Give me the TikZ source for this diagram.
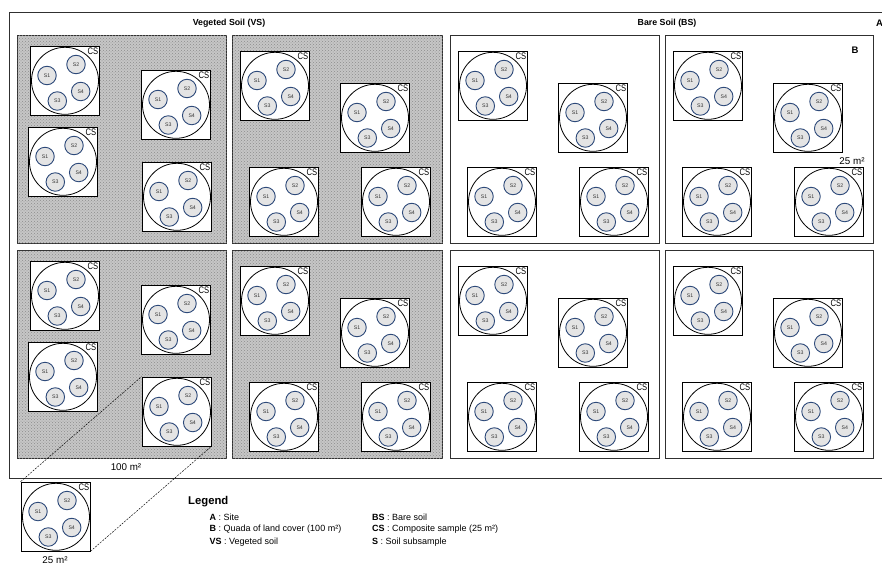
\documentclass[tikz,border=0pt]{standalone}
\usepackage{fontspec}
\setmainfont{Liberation Sans}
\newfontfamily\narrowfam[FakeStretch=0.8]{Liberation Sans}
\usetikzlibrary{patterns}
\definecolor{subedge}{HTML}{2E4A7A}
\definecolor{subfill}{HTML}{E4E4E4}
\definecolor{quadedge}{HTML}{303030}
\definecolor{shadebg}{HTML}{C6C6C6}
\tikzset{
  siteframe/.style={draw=quadedge, line width=1.1pt, rectangle, anchor=north west, inner sep=0pt},
  quad/.style={draw=quadedge, line width=1.1pt, rectangle, anchor=north west, minimum width=209pt, minimum height=208pt, inner sep=0pt},
  vquad/.style={quad, fill=shadebg},
  csbox/.style={draw=black, line width=0.75pt, fill=white, rectangle, minimum size=69pt, inner sep=0pt},
  cscirc/.style={draw=black, line width=0.8pt, circle, minimum size=67pt, inner sep=0pt},
  cslab/.style={font=\narrowfam\fontsize{9.5}{9.5}\selectfont, inner sep=0.6pt, anchor=north east},
  subs/.style={draw=subedge, line width=0.9pt, fill=subfill, circle, minimum size=18.5pt, inner sep=0pt, font=\fontsize{5.2}{5.2}\selectfont, text=black!80},
  ttl/.style={font=\bfseries\fontsize{8.8}{9}\selectfont, inner sep=0pt},
  area/.style={font=\fontsize{9.8}{10}\selectfont, inner sep=0pt},
  legtitle/.style={font=\bfseries\fontsize{11.3}{12}\selectfont, anchor=west, inner sep=0pt},
  legitem/.style={font=\fontsize{9}{10}\selectfont, anchor=west, inner sep=0pt},
  zoomline/.style={draw=black, line width=0.45pt, dash pattern=on 2pt off 1.2pt},
  csunit/.pic={
    \node[csbox] (-box) at (34.5,34.5) {};
    \node[cscirc] (-circ) at (35,34.8) {};
    \node[cslab] (-cs) at (69,0.6) {CS};
    \node[subs] (-s1) at (17,29.5) {S1};
    \node[subs] (-s2) at (46,18.5) {S2};
    \node[subs] (-s3) at (27.3,55) {S3};
    \node[subs] (-s4) at (50.7,45.5) {S4};
  }
}
\newcommand\layoutOne[3]{%
  \pic (#1a) at (#2+13,#3+11) {csunit};
  \pic (#1b) at (#2+124,#3+35) {csunit};
  \pic (#1c) at (#2+11,#3+92) {csunit};
  \pic (#1d) at (#2+125,#3+127) {csunit};
}
\newcommand\layoutTwo[3]{%
  \pic (#1a) at (#2+8,#3+16) {csunit};
  \pic (#1b) at (#2+108,#3+48) {csunit};
  \pic (#1c) at (#2+17,#3+132) {csunit};
  \pic (#1d) at (#2+129,#3+132) {csunit};
}
\begin{document}
\begin{tikzpicture}[x=1pt,y=-1pt]
\useasboundingbox (0,0) rectangle (882,565);
\clip (0,0) rectangle (882,565);
\fill[white] (0,0) rectangle (882,565);
% site frame
\node[siteframe, minimum width=880pt, minimum height=466pt] (site) at (9,12) {};
% quadrats
\node[vquad] (q1) at (17,35) {};
\node[vquad, minimum width=210pt] (q2) at (232,35) {};
\node[quad] (q3) at (450,35) {};
\node[quad, minimum width=208pt] (q4) at (665,35) {};
\node[vquad] (q5) at (17,250) {};
\node[vquad, minimum width=210pt] (q6) at (232,250) {};
\node[quad] (q7) at (450,250) {};
\node[quad, minimum width=208pt] (q8) at (665,250) {};
\foreach \q in {q1,q2,q5,q6}{
  \path[pattern=crosshatch dots, pattern color=gray!90] ([shift={(0.6pt,-0.6pt)}]\q.north west) rectangle ([shift={(-0.6pt,0.6pt)}]\q.south east);
}
% composite samples
\layoutOne{q1}{17}{35}
\layoutTwo{q2}{232}{35}
\layoutTwo{q3}{450}{35}
\layoutTwo{q4}{665}{35}
\layoutOne{q5}{17}{250}
\layoutTwo{q6}{232}{250}
\layoutTwo{q7}{450}{250}
\layoutTwo{q8}{665}{250}
% enlarged composite sample
\pic (zcs) at (21,482) {csunit};
\draw[zoomline] (zcs-box.north west) -- (q5d-box.north west);
\draw[zoomline] (zcs-box.south east) -- (q5d-box.south east);
% labels
\node[ttl] (tvs) at (229,23) {Vegeted Soil (VS)};
\node[ttl] (tbs) at (667,23) {Bare Soil (BS)};
\node[ttl, font=\bfseries\fontsize{9.5}{9.5}\selectfont] (la) at (879.5,23) {A};
\node[ttl, font=\bfseries\fontsize{9.5}{9.5}\selectfont] (lb) at (855,50) {B};
\node[area] (a25top) at (852,161) {25 m²};
\node[area] (a100) at (126,467) {100 m²};
\node[area] (a25bot) at (55,560) {25 m²};
% legend
\node[legtitle] (leg) at (188,502) {Legend};
\node[legitem] (legA) at (209.5,517) {\textbf{A} : Site};
\node[legitem] (legB) at (209.5,529.5) {\textbf{B} : Quada of land cover (100 m²)};
\node[legitem] (legVS) at (209.5,542) {\textbf{VS} : Vegeted soil};
\node[legitem] (legBS) at (372,517) {\textbf{BS} : Bare soil};
\node[legitem] (legCS) at (372,529.5) {\textbf{CS} : Composite sample (25 m²)};
\node[legitem] (legS) at (372,542) {\textbf{S} : Soil subsample};
\end{tikzpicture}
\end{document}
